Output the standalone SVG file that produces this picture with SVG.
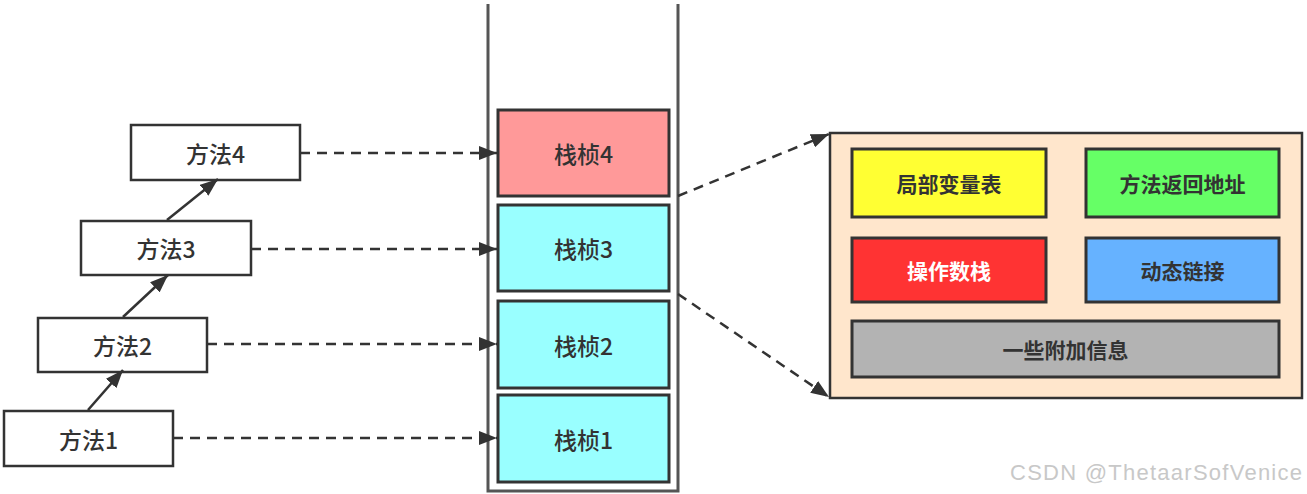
<svg xmlns="http://www.w3.org/2000/svg" width="1307" height="494" viewBox="0 0 1307 494">
<style>
.m{fill:#fff;stroke:#333;stroke-width:2.5}
.f{stroke:#333;stroke-width:3}
.t{font-family:"Noto Sans CJK SC","Noto Sans",sans-serif;font-size:23px;fill:#333;text-anchor:middle;dominant-baseline:central;font-weight:500}
.d{font-family:"Noto Sans CJK SC",sans-serif;font-size:21px;fill:#333;text-anchor:middle;dominant-baseline:central;font-weight:bold}
.c{fill:none;stroke:#333;stroke-width:2.5}
.dash{stroke-dasharray:10 7}
</style>
<defs>
<marker id="ah" markerUnits="userSpaceOnUse" markerWidth="18" markerHeight="14" refX="18" refY="7" orient="auto">
<path d="M0,0 L18,7 L0,14 Z" fill="#333"/>
</marker>
</defs>
<g id="stack">
<path d="M488,4 V491 H678 V4" fill="none" stroke="#555" stroke-width="3"/>
</g>
<g id="m4"><rect class="m" x="131" y="125" width="169" height="55"/><text class="t" x="215.5" y="152.5">方法4</text></g>
<g id="m3"><rect class="m" x="81" y="221" width="170" height="54"/><text class="t" x="166" y="248">方法3</text></g>
<g id="m2"><rect class="m" x="38" y="318" width="169" height="54"/><text class="t" x="122.5" y="345">方法2</text></g>
<g id="m1"><rect class="m" x="4" y="411" width="169" height="55"/><text class="t" x="88.5" y="438.5">方法1</text></g>
<g id="f4"><rect class="f" x="498" y="110" width="171" height="86" fill="#FF9999"/><text class="t" x="583.5" y="153">栈桢4</text></g>
<g id="f3"><rect class="f" x="498" y="205" width="171" height="86" fill="#99FFFF"/><text class="t" x="583.5" y="248">栈桢3</text></g>
<g id="f2"><rect class="f" x="498" y="301" width="171" height="87" fill="#99FFFF"/><text class="t" x="583.5" y="344.5">栈桢2</text></g>
<g id="f1"><rect class="f" x="498" y="395" width="171" height="87" fill="#99FFFF"/><text class="t" x="583.5" y="438.5">栈桢1</text></g>
<g id="detail">
<rect x="830" y="133" width="472" height="265" fill="#FFE6CC" stroke="#333" stroke-width="2.5"/>
<g id="lv"><rect class="f" x="852" y="149" width="194" height="68" fill="#FFFF33"/><text class="d" x="949" y="183">局部变量表</text></g>
<g id="ra"><rect class="f" x="1086" y="149" width="193" height="68" fill="#66FF66"/><text class="d" x="1182.5" y="183">方法返回地址</text></g>
<g id="os"><rect class="f" x="852" y="238" width="194" height="64" fill="#FF3333"/><text class="d" x="949" y="270" style="fill:#fff">操作数栈</text></g>
<g id="dl"><rect class="f" x="1086" y="238" width="193" height="64" fill="#66B2FF"/><text class="d" x="1182.5" y="270">动态链接</text></g>
<g id="ai"><rect class="f" x="852" y="321" width="427" height="56" fill="#B3B3B3"/><text class="d" x="1065.5" y="349">一些附加信息</text></g>
</g>
<g id="connectors">
<line class="c" x1="88" y1="410" x2="123" y2="370" marker-end="url(#ah)"/>
<line class="c" x1="123" y1="317" x2="168" y2="275" marker-end="url(#ah)"/>
<line class="c" x1="167" y1="220" x2="218" y2="179" marker-end="url(#ah)"/>
<line class="c dash" x1="300" y1="153" x2="497" y2="153" marker-end="url(#ah)"/>
<line class="c dash" x1="251" y1="249" x2="497" y2="249" marker-end="url(#ah)"/>
<line class="c dash" x1="207" y1="344" x2="497" y2="344" marker-end="url(#ah)"/>
<line class="c dash" x1="173" y1="438" x2="497" y2="438" marker-end="url(#ah)"/>
<line class="c dash" x1="678" y1="196" x2="829" y2="134" marker-end="url(#ah)"/>
<line class="c dash" x1="678" y1="294" x2="829" y2="397" marker-end="url(#ah)"/>
</g>
<text x="1010" y="480" font-family="Liberation Sans, Arial, sans-serif" font-size="22" fill="#c8c8c8" textLength="292" lengthAdjust="spacing">CSDN @ThetaarSofVenice</text>
</svg>
